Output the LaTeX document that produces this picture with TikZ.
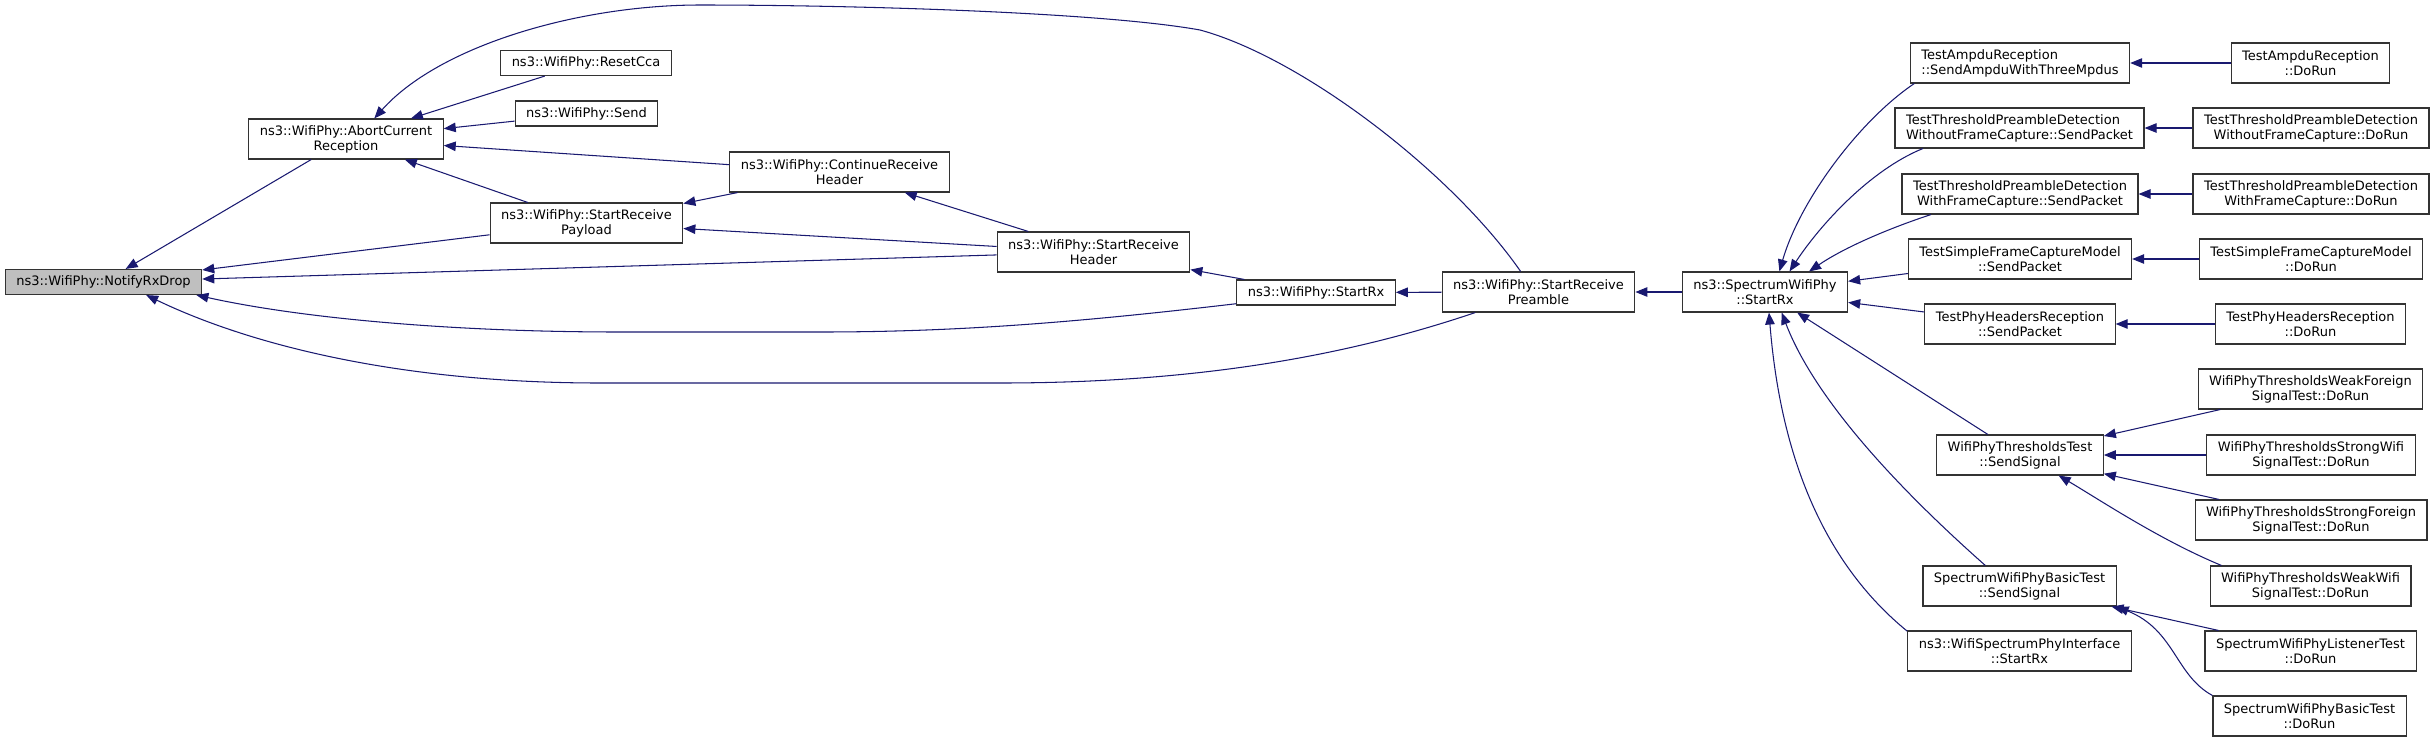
\documentclass[tikz,border=0pt]{standalone}
\usepackage{fontspec}
\setmainfont{DejaVu Sans}
\usetikzlibrary{arrows.meta}
\definecolor{callblue}{HTML}{191970}
\definecolor{dropgray}{HTML}{BFBFBF}
\begin{document}
\begin{tikzpicture}[x=1pt, y=-1pt,
    fn/.style={draw=black!80, line width=1.1pt, fill=white, inner xsep=11pt, inner ysep=0pt,
      minimum height=25pt, align=center, font=\fontsize{13}{15}\selectfont},
    two/.style={minimum height=40pt},
    call/.style={draw=callblue, line width=1.05pt, {Triangle[length=12pt, width=9.5pt]}-}]
          \useasboundingbox (0,0) rectangle (2435,742);
          \node[fn, fill=dropgray] (drop) at (103.5,282){ns3::WifiPhy::NotifyRxDrop};
          \node[fn, two] (abort) at (346,139){ns3::WifiPhy::AbortCurrent\\Reception};
          \node[fn] (resetcca) at (586,63){ns3::WifiPhy::ResetCca};
          \node[fn] (send) at (586.5,113.5){ns3::WifiPhy::Send};
          \node[fn, two] (payload) at (586.5,223){ns3::WifiPhy::StartReceive\\Payload};
          \node[fn, two] (conthdr) at (839.5,172){ns3::WifiPhy::ContinueReceive\\Header};
          \node[fn, two] (starthdr) at (1093.5,252){ns3::WifiPhy::StartReceive\\Header};
          \node[fn] (phyrx) at (1316,292.5){ns3::WifiPhy::StartRx};
          \node[fn, two] (preamble) at (1538.5,292){ns3::WifiPhy::StartReceive\\Preamble};
          \node[fn, two] (specrx) at (1765,292){ns3::SpectrumWifiPhy\\::StartRx};
          \node[fn, two, align=left] (ampdu) at (2020,63){TestAmpduReception\\::SendAmpduWithThreeMpdus};
          \node[fn, two, align=left] (woutfc) at (2019.5,128){TestThresholdPreambleDetection\\WithoutFrameCapture::SendPacket};
          \node[fn, two] (withfc) at (2020,194){TestThresholdPreambleDetection\\WithFrameCapture::SendPacket};
          \node[fn, two] (simplefc) at (2020,259){TestSimpleFrameCaptureModel\\::SendPacket};
          \node[fn, two] (phyhdr) at (2020,324){TestPhyHeadersReception\\::SendPacket};
          \node[fn, two] (thrtest) at (2020,455){WifiPhyThresholdsTest\\::SendSignal};
          \node[fn, two] (basictest) at (2019.5,586){SpectrumWifiPhyBasicTest\\::SendSignal};
          \node[fn, two] (ifacerx) at (2019.5,651){ns3::WifiSpectrumPhyInterface\\::StartRx};
          \node[fn, two] (ampdurun) at (2310.5,63){TestAmpduReception\\::DoRun};
          \node[fn, two] (woutfcrun) at (2311,128){TestThresholdPreambleDetection\\WithoutFrameCapture::DoRun};
          \node[fn, two] (withfcrun) at (2311,194){TestThresholdPreambleDetection\\WithFrameCapture::DoRun};
          \node[fn, two] (simplefcrun) at (2311,259){TestSimpleFrameCaptureModel\\::DoRun};
          \node[fn, two] (phyhdrrun) at (2310.5,324){TestPhyHeadersReception\\::DoRun};
          \node[fn, two] (weakfrn) at (2310.5,389){WifiPhyThresholdsWeakForeign\\SignalTest::DoRun};
          \node[fn, two] (strongwifi) at (2311,455){WifiPhyThresholdsStrongWifi\\SignalTest::DoRun};
          \node[fn, two] (strongfrn) at (2311,520){WifiPhyThresholdsStrongForeign\\SignalTest::DoRun};
          \node[fn, two] (weakwifi) at (2310.5,586){WifiPhyThresholdsWeakWifi\\SignalTest::DoRun};
          \node[fn, two] (listener) at (2310.5,651){SpectrumWifiPhyListenerTest\\::DoRun};
          \node[fn, two] (basicrun) at (2309.5,716){SpectrumWifiPhyBasicTest\\::DoRun};
          \draw[call](drop) -- (abort);
          \draw[call](drop) -- (payload);
          \draw[call](drop) -- (starthdr);
          \draw[call](drop.-8) .. controls (300,318) and (450,332) .. (620,332) -- (820,332) .. controls (960,332) and (1080,322) .. (phyrx.-172);
          \draw[call](drop.-17) .. controls (250,345) and (400,383) .. (600,383) -- (1000,383) .. controls (1200,383) and (1350,355) .. (preamble.-162);
          \draw[call](abort.36) .. controls (440,45) and (580,5) .. (700,5) .. controls (850,5) and (1100,12) .. (1200,30) .. controls (1300,57) and (1450,170) .. (preamble.131);
          \draw[call](abort) -- (resetcca);
          \draw[call](abort) -- (send);
          \draw[call](abort) -- (conthdr);
          \draw[call](abort) -- (payload);
          \draw[call](payload) -- (conthdr);
          \draw[call](payload) -- (starthdr);
          \draw[call](conthdr) -- (starthdr);
          \draw[call](starthdr) -- (phyrx);
          \draw[call](phyrx) -- (preamble);
          \draw[call](preamble) -- (specrx);
          \draw[call](specrx.55) .. controls (1800,200) and (1860,120) .. (ampdu.-169);
          \draw[call](specrx.40) .. controls (1820,225) and (1870,170) .. (woutfc.-168);
          \draw[call](specrx.25) .. controls (1845,247) and (1890,228) .. (withfc.-167);
          \draw[call](specrx) -- (simplefc);
          \draw[call](specrx) -- (phyhdr);
          \draw[call](specrx) -- (thrtest);
          \draw[call](specrx.-51) .. controls (1815,400) and (1900,490) .. (basictest.149);
          \draw[call](specrx.-79) .. controls (1780,450) and (1820,560) .. (ifacerx.170);
          \draw[call](ampdu) -- (ampdurun);
          \draw[call](woutfc) -- (woutfcrun);
          \draw[call](withfc) -- (withfcrun);
          \draw[call](simplefc) -- (simplefcrun);
          \draw[call](phyhdr) -- (phyhdrrun);
          \draw[call](thrtest) -- (weakfrn);
          \draw[call](thrtest) -- (strongwifi);
          \draw[call](thrtest) -- (strongfrn);
          \draw[call](thrtest.-28) .. controls (2100,500) and (2160,540) .. (weakwifi.167);
          \draw[call](basictest) -- (listener);
          \draw[call](basictest.south east) .. controls (2175,630) and (2175,675) .. (basicrun.north west);
        \end{tikzpicture}
\end{document}
